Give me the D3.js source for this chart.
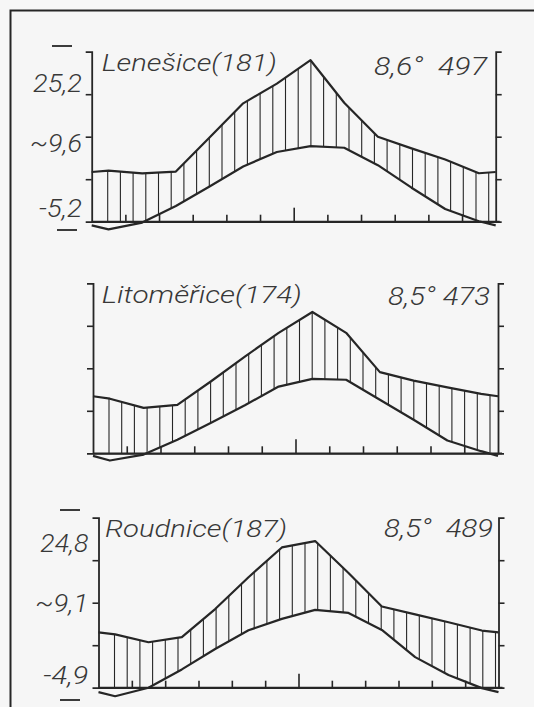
<!DOCTYPE html>
<html>
<head>
<meta charset="utf-8">
<script src="https://cdn.jsdelivr.net/npm/d3@7"></script>
<style>
  html, body { margin: 0; padding: 0; background: #f6f6f6; }
  svg { display: block; }
  text { font-family: "Roboto", "DejaVu Sans", sans-serif; font-style: italic; font-weight: 300; fill: #383838; }
</style>
</head>
<body>
<svg id="chart" width="534" height="707"></svg>
<script>
// Walter-Lieth climate diagrams, three stations

const months = ['I', 'II', 'III', 'IV', 'V', 'VI', 'VII', 'VIII', 'IX', 'X', 'XI', 'XII'];
const stations = ['Lenešice(181)', 'Litoměřice(174)', 'Roudnice(187)'];
const annualInfo = ['8,6°  497', '8,5° 473', '8,5°  489'];

// mean monthly temperature, °C
const tempLenesice = [-1.8, -0.2, 3.7, 8.3, 13.0, 16.4, 17.8, 17.4, 13.3, 8.0, 3.0, 0.1];
const tempLitomerice = [-1.7, -0.3, 3.2, 7.2, 11.3, 15.7, 17.5, 17.3, 12.6, 7.9, 3.0, 0.5];
const tempRoudnice = [-2.0, 0.0, 4.3, 9.1, 13.5, 16.2, 18.3, 17.6, 13.6, 7.2, 3.0, -0.1];

// mean monthly precipitation, mm
const precLenesice = [24.0, 22.7, 23.6, 39.6, 55.7, 65.0, 76.0, 56.0, 40.0, 34.5, 29.3, 22.8];
const precLitomerice = [25.7, 21.4, 22.8, 33.9, 45.5, 56.7, 66.5, 56.7, 38.2, 34.2, 31.0, 28.0];
const precRoudnice = [25.1, 21.4, 23.8, 37.0, 52.0, 66.0, 69.0, 54.0, 38.2, 34.5, 30.8, 26.9];

// side annotations (max of warmest month, daily range, min of coldest month)
const sideLabels = [['25,2', '~9,6', '-5,2'], [], ['24,8', '~9,1', '-4,9']];

const temps = [tempLenesice, tempLitomerice, tempRoudnice];
const precs = [precLenesice, precLitomerice, precRoudnice];

// panel placement
const panels = [
  { left: 91.7, right: 495.7, base: 221.7, titleX: 101.7, titleY: 70.7, titleW: 175, infoY: 75, infoX: 487, infoW: 113,
    sideY: [91.7, 151.7, 216.7], sideX: 82, sideW: [49, 52, 43], dashY: [46, 230], dashX: [52, 57] },
  { left: 93, right: 498, base: 453.3, titleX: 101.7, titleY: 303.3, titleW: 200, infoY: 305, infoX: 490, infoW: 102 },
  { left: 98.5, right: 498.5, base: 687.7, titleX: 105, titleY: 536.7, titleW: 182, infoY: 537.3, infoX: 493, infoW: 109,
    sideY: [551.5, 611.7, 684], sideX: 88.3, sideW: [48, 53, 45], dashY: [510, 700], dashX: [60, 60] }
];

const ink = '#262626';
const svg = d3.select('#chart');

// outer frame (only the top and left borders are inside the picture)
svg.append('path')
  .attr('d', 'M10.5,707 V10.5 H534')
  .attr('fill', 'none')
  .attr('stroke', ink)
  .attr('stroke-width', 2);

panels.forEach((p, k) => {
  const g = svg.append('g');
  const t = temps[k], pr = precs[k];

  const x = d3.scaleBand().domain(months).range([p.left, p.right]);
  const xm = m => x(m) + x.bandwidth() / 2;
  const yT = d3.scaleLinear().domain([0, 40]).range([p.base, p.base - 170]);
  const yP = d3.scaleLinear().domain([0, 80]).range([p.base, p.base - 170]);

  // points incl. the two edge points (mean of Dec and Jan)
  const edgeT = (t[0] + t[11]) / 2, edgeP = (pr[0] + pr[11]) / 2;
  const pts = [{ x: p.left, t: edgeT, p: edgeP }]
    .concat(months.map((m, i) => ({ x: xm(m), t: t[i], p: pr[i] })))
    .concat([{ x: p.right, t: edgeT, p: edgeP }]);

  // hatching between the curves
  const clipId = 'humid' + k;
  g.append('clipPath').attr('id', clipId)
    .append('path')
    .attr('d', d3.area()
      .x(d => d.x)
      .y0(d => yT(Math.max(d.t, 0)))
      .y1(d => yP(d.p))(pts));

  g.append('g')
    .attr('clip-path', 'url(#' + clipId + ')')
    .selectAll('line')
    .data(d3.range(p.left + 16, p.right - 2, 12.7))
    .join('line')
    .attr('x1', d => d).attr('x2', d => d)
    .attr('y1', p.base - 175).attr('y2', p.base)
    .attr('stroke', ink)
    .attr('stroke-width', 1.1);

  // month ticks on the baseline
  const xAxis = d3.axisTop(d3.scaleLinear().domain([0, 12]).range([p.left, p.right]))
    .tickValues(d3.range(1, 12))
    .tickSize(7)
    .tickSizeOuter(0)
    .tickFormat('');
  const ax = g.append('g').attr('transform', 'translate(0,' + p.base + ')').call(xAxis);
  ax.selectAll('.tick line').filter(d => d === 6).attr('y2', -14);

  // temperature axis (left) and precipitation axis (right)
  const leftAx = g.append('g').attr('transform', 'translate(' + p.left + ',0)')
    .call(d3.axisLeft(yT).tickValues([10, 20, 30]).tickSize(6).tickSizeOuter(6).tickFormat(''));
  const rightAx = g.append('g').attr('transform', 'translate(' + p.right + ',0)')
    .call(d3.axisRight(yP).tickValues([20, 40, 60]).tickSize(6).tickSizeOuter(6).tickFormat(''));

  [ax, leftAx, rightAx].forEach(a => {
    a.select('.domain').attr('stroke', ink).attr('stroke-width', 1.8);
    a.selectAll('.tick line').attr('stroke', ink).attr('stroke-width', 1.6);
  });

  // baseline a bit longer at the right end
  g.append('line')
    .attr('x1', p.left).attr('x2', p.right + 4)
    .attr('y1', yT(0)).attr('y2', yT(0))
    .attr('stroke', ink).attr('stroke-width', 1.8);

  // curves
  g.append('path').datum(pts)
    .attr('d', d3.line().x(d => d.x).y(d => yP(d.p)))
    .attr('fill', 'none').attr('stroke', ink).attr('stroke-width', 2.2)
    .attr('stroke-linejoin', 'round');
  g.append('path').datum(pts)
    .attr('d', d3.line().x(d => d.x).y(d => yT(d.t)))
    .attr('fill', 'none').attr('stroke', ink).attr('stroke-width', 2.2)
    .attr('stroke-linejoin', 'round');

  // texts
  g.append('text')
    .attr('x', p.titleX).attr('y', p.titleY)
    .attr('font-size', 24)
    .attr('textLength', p.titleW).attr('lengthAdjust', 'spacingAndGlyphs')
    .text(stations[k]);
  g.append('text')
    .attr('x', p.infoX - p.infoW).attr('y', p.infoY)
    .attr('font-size', 26)
    .attr('textLength', p.infoW).attr('lengthAdjust', 'spacingAndGlyphs')
    .attr('xml:space', 'preserve')
    .style('white-space', 'pre')
    .text(annualInfo[k]);

  sideLabels[k].forEach((s, i) => {
    g.append('text')
      .attr('x', p.sideX - p.sideW[i]).attr('y', p.sideY[i])
      .attr('font-size', 25)
      .attr('textLength', p.sideW[i]).attr('lengthAdjust', 'spacingAndGlyphs')
      .text(s);
  });

  if (p.dashY) {
    p.dashY.forEach((dy, i) => {
      g.append('line')
        .attr('x1', p.dashX[i]).attr('x2', p.dashX[i] + 20)
        .attr('y1', dy).attr('y2', dy)
        .attr('stroke', ink).attr('stroke-width', 1.8);
    });
  }
});
</script>
</body>
</html>
